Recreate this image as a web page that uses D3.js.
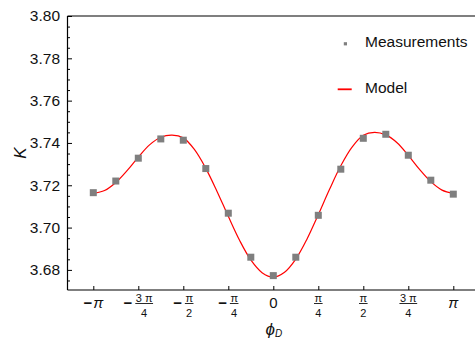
<!DOCTYPE html>
<html><head><meta charset="utf-8">
<script src="https://cdn.jsdelivr.net/npm/d3@7"></script>
<style>
html,body{margin:0;padding:0;background:#fff;}
svg{display:block;font-family:"Liberation Sans",Arial,sans-serif;}
</style></head>
<body>
<svg id="c" width="475" height="340"></svg>
<script>
// measurement angles in units of pi/8
const measSteps = [-8,-7,-6,-5,-4,-3,-2,-1,0,1,2,3,4,5,6,7,8];
const measValues = [3.7165,3.7220,3.7328,3.7419,3.7413,3.7279,3.7068,3.6860,3.6773,3.6860,3.7058,3.7276,3.7422,3.7441,3.7342,3.7224,3.7158];
// model curve angles in units of pi/16
const modelSteps = [-16,-15,-14,-13,-12,-11,-10,-9,-8,-7,-6,-5,-4,-3,-2,-1,0,1,2,3,4,5,6,7,8,9,10,11,12,13,14,15,16];
const modelValues = [3.7162,3.7175,3.7213,3.7269,3.7333,3.7391,3.7427,3.7437,3.7424,3.7368,3.7280,3.7171,3.7053,3.6940,3.6847,3.6787,3.6766,3.6789,3.6851,3.6946,3.7061,3.7181,3.7292,3.7380,3.7436,3.7450,3.7438,3.7401,3.7341,3.7275,3.7217,3.7177,3.7162];
// x ticks in units of pi/4
const xTickSteps = [-4,-3,-2,-1,0,1,2,3,4];
const xTickLabels = ["-π","-3 π/4","-π/2","-π/4","0","π/4","π/2","3 π/4","π"];
const yTicks = [3.68,3.70,3.72,3.74,3.76,3.78,3.80];
const yMinorTicks = [3.675,3.685,3.69,3.695,3.705,3.71,3.715,3.725,3.73,3.735,3.745,3.75,3.755,3.765,3.77,3.775,3.785,3.79,3.795];
const legendLabels = ["Measurements","Model"];

(function(){
const svg = d3.select("#c");
const PI = Math.PI;
const L = 67.5, R = 475, T = 16, B = 290;
const x = d3.scaleLinear().domain([-PI, PI]).range([93.3, 453.3]);
const y = d3.scaleLinear().domain([3.6705, 3.80]).range([B, T]);

// frame lines
const frame = svg.append("g").attr("stroke","#000").attr("stroke-width",1.2).attr("fill","none");
frame.append("line").attr("x1",L).attr("x2",R).attr("y1",B).attr("y2",B);
frame.append("line").attr("x1",L).attr("x2",R).attr("y1",T).attr("y2",T);
frame.append("line").attr("x1",L).attr("x2",L).attr("y1",T).attr("y2",B);

// y ticks (inward)
const yAxis = d3.axisLeft(y).tickValues(yTicks).tickFormat(d3.format(".2f")).tickSizeInner(-4.5).tickSizeOuter(0).tickPadding(7.5);
const gy = svg.append("g").attr("transform",`translate(${L},0)`).call(yAxis);
gy.select(".domain").remove();
gy.selectAll(".tick line").attr("stroke","#000").attr("stroke-width",1);
gy.selectAll(".tick text").attr("font-size",15.5).attr("fill","#111").attr("font-family","'Liberation Sans',Arial,sans-serif");
const gym = svg.append("g").attr("transform",`translate(${L},0)`)
  .call(d3.axisLeft(y).tickValues(yMinorTicks).tickFormat("").tickSizeInner(-2.5).tickSizeOuter(0));
gym.select(".domain").remove();
gym.selectAll(".tick line").attr("stroke","#000").attr("stroke-width",1);

// x ticks (inward), custom labels
const gx = svg.append("g").attr("transform",`translate(0,${B})`)
  .call(d3.axisBottom(x).tickValues(xTickSteps.map(s=>s*PI/4)).tickFormat("").tickSizeInner(-4).tickSizeOuter(0));
gx.select(".domain").remove();
gx.selectAll(".tick line").attr("stroke","#000").attr("stroke-width",1);

xTickSteps.forEach((s,i)=>{
  const lab = xTickLabels[i];
  const g = svg.append("g").attr("transform",`translate(${x(s*PI/4)},0)`);
  const neg = lab.startsWith("-");
  const body = neg ? lab.slice(1) : lab;
  let parts = body.split("/");
  let minus = null, mw = 0, gap = 0;
  if (neg) {
    minus = g.append("text").text("−").attr("font-size",15).attr("font-weight","bold").attr("y",307.5).attr("fill","#111");
    mw = minus.node().getComputedTextLength(); gap = parts.length>1 ? 3 : 1;
  }
  if (parts.length === 1) {
    const t = g.append("text").text(body).attr("font-size",15).attr("y",307.5).attr("fill","#111")
      .attr("font-style", body==="π" ? "italic" : "normal");
    const tw = t.node().getComputedTextLength();
    const total = mw + gap + tw;
    const st = -total/2;
    if (minus) minus.attr("x", st);
    t.attr("x", st + mw + gap);
  } else {
    const num = g.append("text").text(parts[0]).attr("font-size",11).attr("text-anchor","middle").attr("y",301.5).attr("fill","#111");
    const den = g.append("text").text(parts[1]).attr("font-size",11).attr("text-anchor","middle").attr("y",316.5).attr("fill","#111");
    const fw = Math.max(num.node().getComputedTextLength(), den.node().getComputedTextLength()) + 1;
    const total = mw + gap + fw;
    const st = -total/2;
    if (minus) minus.attr("x", st);
    const cx = st + mw + gap + fw/2;
    num.attr("x", cx); den.attr("x", cx);
    g.append("line").attr("x1",cx-fw/2).attr("x2",cx+fw/2).attr("y1",303.5).attr("y2",303.5).attr("stroke","#111").attr("stroke-width",0.9);
  }
});

// model curve
const line = d3.line().x((d,i)=>x(modelSteps[i]*PI/16)).y(d=>y(d)).curve(d3.curveCatmullRom);
svg.append("path").datum(modelValues).attr("d",line).attr("fill","none").attr("stroke","#ff0000").attr("stroke-width",1.2);

// measurements
const sq = 7;
svg.append("g").selectAll("rect").data(measValues).join("rect")
  .attr("x",(d,i)=>x(measSteps[i]*PI/8)-sq/2).attr("y",d=>y(d)-sq/2)
  .attr("width",sq).attr("height",sq).attr("fill","#7f7f7f");

// legend
const lg = svg.append("g");
lg.append("rect").attr("x",343.8).attr("y",42.2).attr("width",3.2).attr("height",3.2).attr("fill","#7f7f7f");
lg.append("text").attr("x",365).attr("y",47).attr("font-size",15.5).attr("fill","#111").text(legendLabels[0]);
lg.append("line").attr("x1",337.7).attr("x2",351.7).attr("y1",89.3).attr("y2",89.3).attr("stroke","#ff0000").attr("stroke-width",1.8);
lg.append("text").attr("x",365).attr("y",93).attr("font-size",15.5).attr("fill","#111").text(legendLabels[1]);

// axis titles
svg.append("text").attr("transform","translate(26,153) rotate(-90)").attr("text-anchor","middle")
  .attr("font-size",17).attr("font-style","italic").attr("fill","#111").text("K");
const xl = svg.append("text").attr("x",265.5).attr("y",335).attr("font-size",17).attr("font-style","italic").attr("fill","#111");
xl.append("tspan").text("ϕ");
xl.append("tspan").attr("font-size",10).attr("dy",2).text("D");
})();
</script>
</body></html>
